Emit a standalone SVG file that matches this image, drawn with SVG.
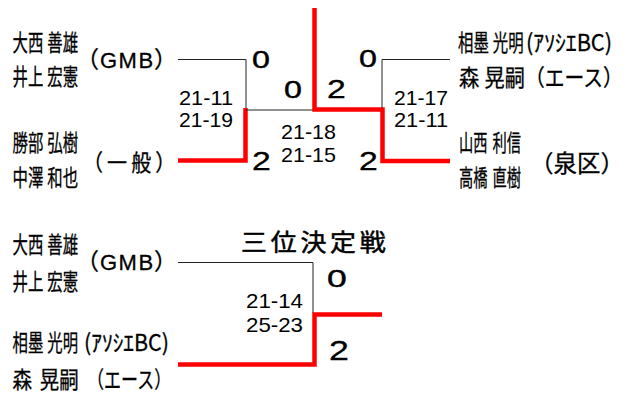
<svg xmlns="http://www.w3.org/2000/svg" width="625" height="396" viewBox="0 0 625 396">
<style>
.nm { font-family: "Noto Sans CJK JP", sans-serif; font-size: 23px; fill: #000; stroke: #000; stroke-width: 0.3px; }
.lat { font-family: "Liberation Sans", Arial, sans-serif; font-size: 22px; stroke-width: 0.3px; }
.tt { font-family: "Noto Sans CJK JP", sans-serif; font-size: 24px; fill: #000; stroke: #000; stroke-width: 0.5px; }
.sc { font-family: "Liberation Sans", Arial, sans-serif; font-size: 21px; fill: #000; }
.b0 { font-family: "Liberation Sans", Arial, sans-serif; font-size: 23px; fill: #000; stroke: #000; stroke-width: 0.4px; }
.b2 { font-family: "Liberation Sans", Arial, sans-serif; font-size: 25px; fill: #000; stroke: #000; stroke-width: 0.3px; }
.thin { fill: none; stroke: #222; stroke-width: 1; }
.win { fill: none; stroke: #ff0000; stroke-width: 4.5; stroke-linejoin: miter; stroke-linecap: butt; }
</style>
<rect width="625" height="396" fill="#fff"/>

<g id="connectors">
  <polyline class="thin" points="178,59.5 246,59.5 246,110"/>
  <polyline class="win" points="178,160.5 245.5,160.5 245.5,108"/>
  <polyline class="thin" points="246,110 313,110"/>
  <polyline class="win" points="450,161 382.5,161 382.5,109.5 314.5,109.5 314.5,8"/>
  <polyline class="thin" points="450,59.5 382,59.5 382,108"/>
  <polyline class="thin" points="178,262.5 313,262.5 313,313"/>
  <polyline class="win" points="178,364.5 314.5,364.5 314.5,314.5 382,314.5"/>
</g>

<g id="team-gmb-top">
  <text class="nm" transform="translate(12.5,51.4) scale(0.67,1)"><tspan x="0">大西</tspan> <tspan x="52">善雄</tspan></text>
  <text class="nm" transform="translate(12.5,85.4) scale(0.67,1)"><tspan x="0">井上</tspan> <tspan x="52">宏憲</tspan></text>
  <text class="nm" y="67.5"><tspan x="76">（</tspan><tspan class="lat" x="100" letter-spacing="1.5">GMB</tspan><tspan x="154">）</tspan></text>
</g>
<g id="team-ippan">
  <text class="nm" transform="translate(12.5,151.4) scale(0.67,1)"><tspan x="0">勝部</tspan> <tspan x="52">弘樹</tspan></text>
  <text class="nm" transform="translate(12.5,186.4) scale(0.67,1)"><tspan x="0">中澤</tspan> <tspan x="52">和也</tspan></text>
  <text class="nm" transform="translate(83,171.4) scale(0.87,1)" textLength="106" lengthAdjust="spacing">（一般）</text>
</g>
<g id="team-ace-top">
  <text class="nm" transform="translate(458,51.4) scale(0.67,1)"><tspan x="0">相墨</tspan> <tspan x="52">光明</tspan></text>
  <text class="nm" x="526" y="51.4" textLength="86" lengthAdjust="spacingAndGlyphs">(ｱｿｼｴBC)</text>
  <text class="nm" transform="translate(459,86.4) scale(0.88,1)"><tspan x="0">森</tspan> <tspan x="29">晃嗣</tspan></text>
  <text class="nm" transform="translate(525,86.4) scale(0.86,1)">（エース）</text>
</g>
<g id="team-izumi">
  <text class="nm" transform="translate(459,151.4) scale(0.62,1)"><tspan x="0">山西</tspan> <tspan x="54">利信</tspan></text>
  <text class="nm" transform="translate(459,186.4) scale(0.62,1)"><tspan x="0">高橋</tspan> <tspan x="54">直樹</tspan></text>
  <text class="nm" style="font-size:23.5px" transform="translate(530,171.6)">（泉区）</text>
</g>

<g id="scores-top">
  <text class="sc" x="179" y="105" textLength="54" lengthAdjust="spacingAndGlyphs">21-11</text>
  <text class="sc" x="179" y="127" textLength="54" lengthAdjust="spacingAndGlyphs">21-19</text>
  <text class="sc" x="281" y="139" textLength="55" lengthAdjust="spacingAndGlyphs">21-18</text>
  <text class="sc" x="281" y="162" textLength="55" lengthAdjust="spacingAndGlyphs">21-15</text>
  <text class="sc" x="394" y="105" textLength="54" lengthAdjust="spacingAndGlyphs">21-17</text>
  <text class="sc" x="394" y="127" textLength="54" lengthAdjust="spacingAndGlyphs">21-11</text>
  <text class="b0" transform="translate(252,67.8) scale(1.4,1)">0</text>
  <text class="b0" transform="translate(284,97.8) scale(1.4,1)">0</text>
  <text class="b0" transform="translate(359,66.8) scale(1.4,1)">0</text>
  <text class="b2" transform="translate(252,170) scale(1.35,1)">2</text>
  <text class="b2" transform="translate(327,98) scale(1.35,1)">2</text>
  <text class="b2" transform="translate(359,170) scale(1.35,1)">2</text>
</g>

<g id="third-place">
  <text class="tt" transform="translate(241,251) scale(1.08,1)" textLength="134" lengthAdjust="spacing">三位決定戦</text>
</g>
<g id="team-gmb-bottom">
  <text class="nm" transform="translate(12.5,253) scale(0.67,1)"><tspan x="0">大西</tspan> <tspan x="52">善雄</tspan></text>
  <text class="nm" transform="translate(12.5,290) scale(0.67,1)"><tspan x="0">井上</tspan> <tspan x="52">宏憲</tspan></text>
  <text class="nm" y="270"><tspan x="76">（</tspan><tspan class="lat" x="100" letter-spacing="1.5">GMB</tspan><tspan x="154">）</tspan></text>
</g>
<g id="team-ace-bottom">
  <text class="nm" transform="translate(12.5,351.4) scale(0.67,1)"><tspan x="0">相墨</tspan> <tspan x="52">光明</tspan></text>
  <text class="nm" x="84" y="351.4" textLength="85" lengthAdjust="spacingAndGlyphs">(ｱｿｼｴBC)</text>
  <text class="nm" transform="translate(12.5,388.4) scale(0.85,1)"><tspan x="0">森</tspan> <tspan x="32">晃嗣</tspan></text>
  <text class="nm" transform="translate(87,388.4) scale(0.74,1)">（エース）</text>
</g>
<g id="scores-bottom">
  <text class="sc" x="246" y="308" textLength="57" lengthAdjust="spacingAndGlyphs">21-14</text>
  <text class="sc" x="246" y="332" textLength="57" lengthAdjust="spacingAndGlyphs">25-23</text>
  <text class="b0" style="font-size:24.5px" transform="translate(327,286.8) scale(1.45,1)">0</text>
  <text class="b2" style="font-size:27.5px" transform="translate(329,360) scale(1.3,1)">2</text>
</g>
</svg>
